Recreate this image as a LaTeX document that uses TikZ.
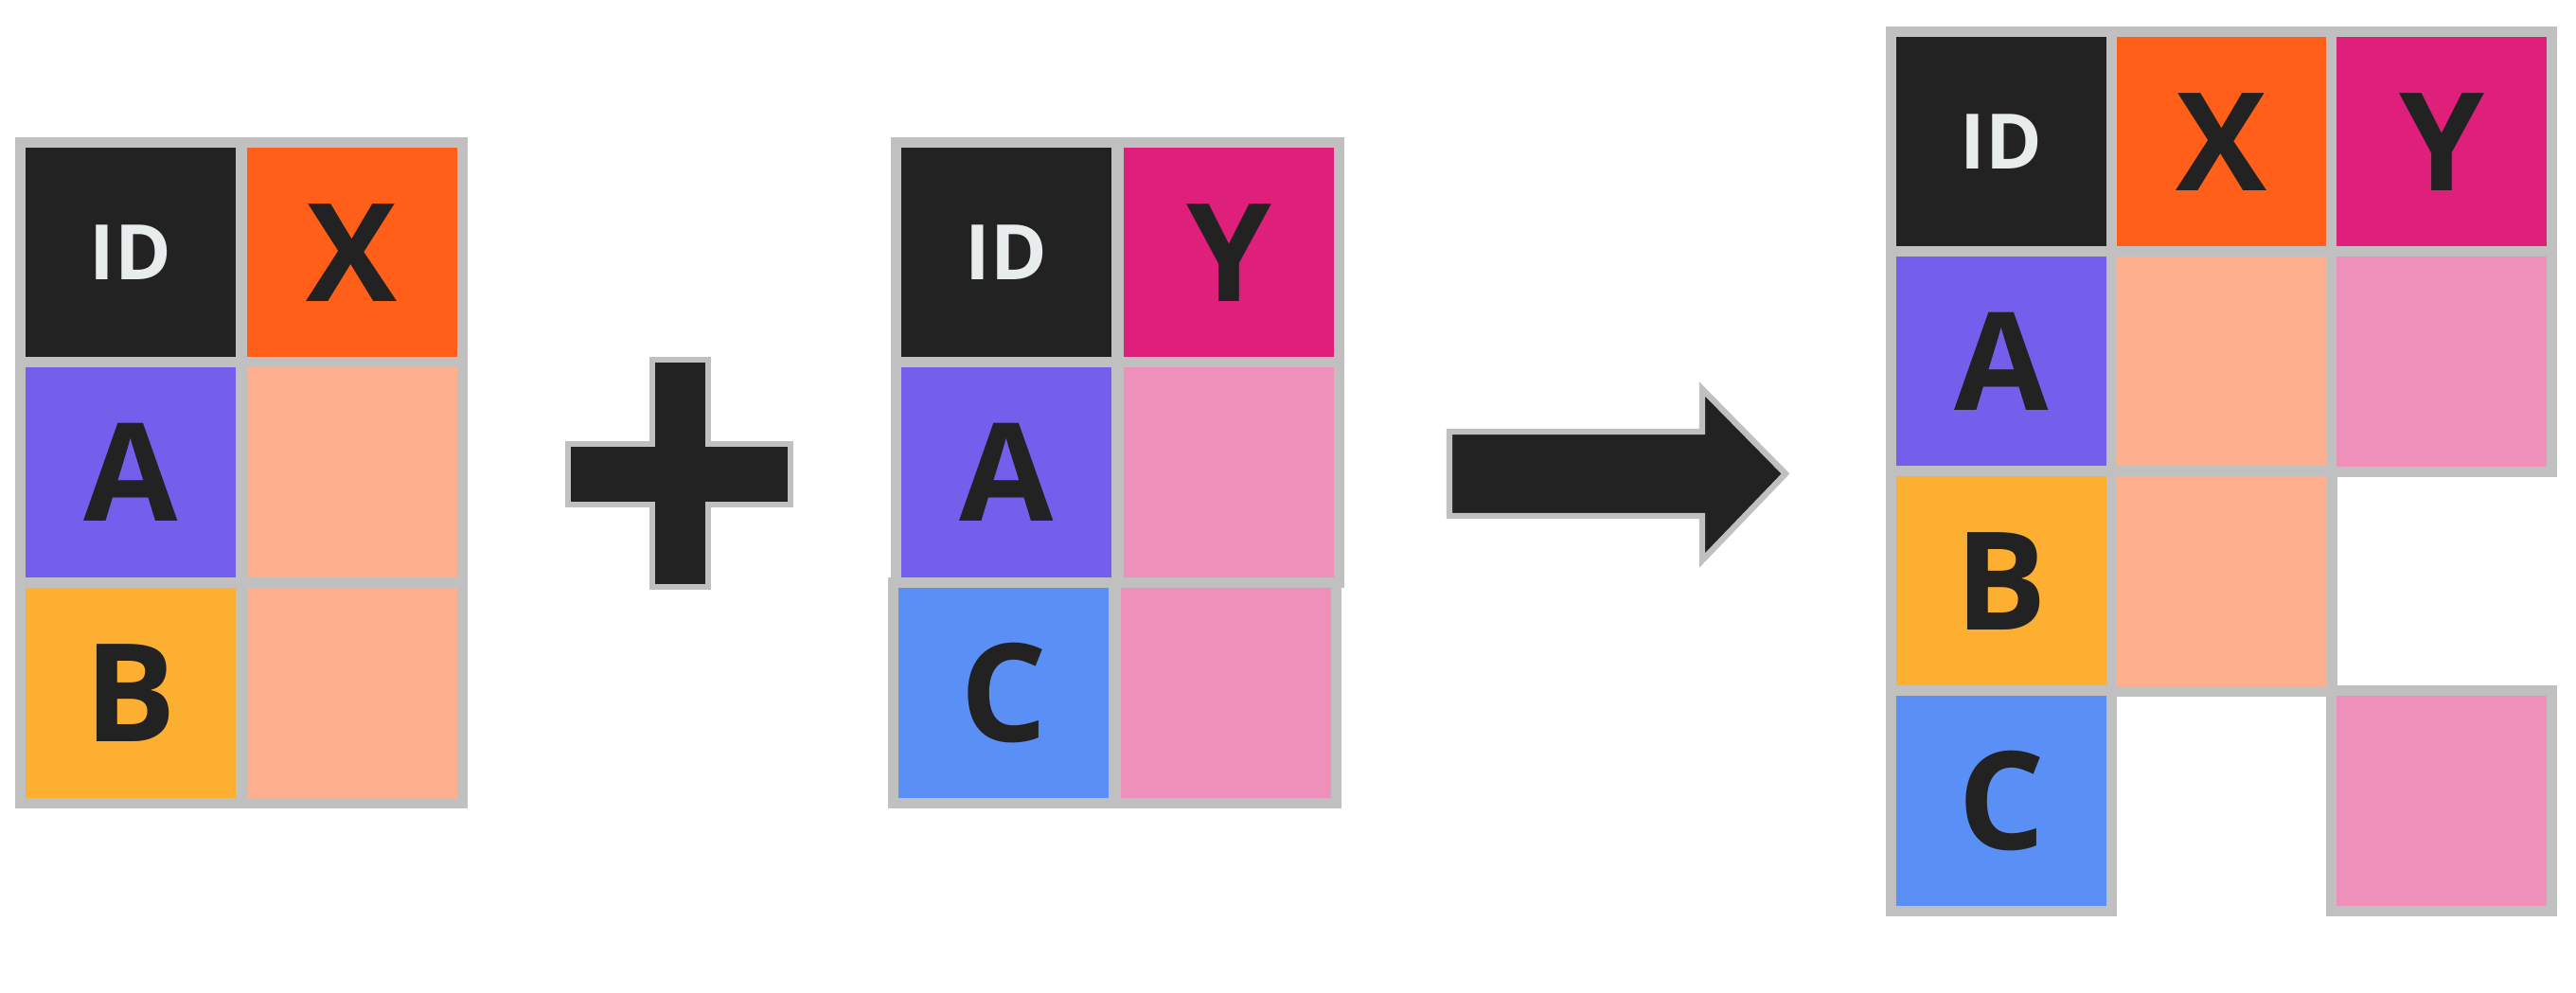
\documentclass[tikz,border=0pt]{standalone}
\usepackage{fontspec}
\setsansfont{Open Sans}
\usetikzlibrary{positioning}

\definecolor{cellgray}{HTML}{C0C0C0}
\definecolor{inkblack}{HTML}{222222}
\definecolor{idwhite}{HTML}{E9ECEC}
\definecolor{xorange}{HTML}{FF5F19}
\definecolor{xlight}{HTML}{FEAF8D}
\definecolor{ymagenta}{HTML}{DF207B}
\definecolor{ylight}{HTML}{EF90BB}
\definecolor{apurple}{HTML}{735FEB}
\definecolor{byellow}{HTML}{FDAF32}
\definecolor{cblue}{HTML}{5A8FF6}

\newcommand{\DrawCell}[5]{
    \node[#4] (#1) at (#2,#3) {#5};
}

\begin{document}
\begin{tikzpicture}[
  cell/.style={draw=cellgray, line width=3pt, minimum width=2.33cm, minimum height=2.33cm,
               inner sep=0pt, text=inkblack, font=\sffamily\bfseries\fontsize{41}{41}\selectfont},
  idcell/.style={cell, fill=inkblack, text=idwhite, font=\sffamily\bfseries\fontsize{23}{23}\selectfont},
  xhead/.style={cell, fill=xorange},
  xval/.style={cell, fill=xlight},
  yhead/.style={cell, fill=ymagenta},
  yval/.style={cell, fill=ylight},
  keya/.style={cell, fill=apurple},
  keyb/.style={cell, fill=byellow},
  keyc/.style={cell, fill=cblue},
  sign/.style={fill=inkblack, draw=cellgray, line width=1.8pt}
  ]
  \useasboundingbox (0,0) rectangle (27.21,10.49);

  % left table
  \DrawCell{lid}{1.38}{7.82}{idcell}{ID}
  \DrawCell{lx}{3.72}{7.82}{xhead}{X}
  \DrawCell{la}{1.38}{5.50}{keya}{A}
  \DrawCell{lxa}{3.72}{5.50}{xval}{}
  \DrawCell{lb}{1.38}{3.17}{keyb}{B}
  \DrawCell{lxb}{3.72}{3.17}{xval}{}

  % plus sign
  \draw[sign] (6.89,6.69) -- (7.48,6.69) -- (7.48,5.80) -- (8.35,5.80) -- (8.35,5.16)
    -- (7.48,5.16) -- (7.48,4.29) -- (6.89,4.29) -- (6.89,5.16) -- (6.00,5.16)
    -- (6.00,5.80) -- (6.89,5.80) -- cycle;

  % middle table
  \DrawCell{mid}{10.63}{7.82}{idcell}{ID}
  \DrawCell{my}{12.98}{7.82}{yhead}{Y}
  \DrawCell{ma}{10.63}{5.50}{keya}{A}
  \DrawCell{mya}{12.98}{5.50}{yval}{}
  \DrawCell{mc}{10.60}{3.17}{keyc}{C}
  \DrawCell{myc}{12.95}{3.17}{yval}{}

  % result arrow
  \draw[sign] (15.31,5.93) -- (17.98,5.93) -- (17.98,6.38) -- (18.86,5.485)
    -- (17.98,4.57) -- (17.98,5.04) -- (15.31,5.04) -- cycle;

  % joined table
  \DrawCell{rid}{21.14}{8.99}{idcell}{ID}
  \DrawCell{rx}{23.47}{8.99}{xhead}{X}
  \DrawCell{ry}{25.79}{8.99}{yhead}{Y}
  \DrawCell{ra}{21.14}{6.67}{keya}{A}
  \DrawCell{rxa}{23.47}{6.67}{xval}{}
  \DrawCell{rya}{25.79}{6.67}{yval}{}
  \DrawCell{rb}{21.14}{4.35}{keyb}{B}
  \DrawCell{rxb}{23.47}{4.35}{xval}{}
  \DrawCell{rc}{21.14}{2.03}{keyc}{C}
  \DrawCell{ryc}{25.79}{2.03}{yval}{}
\end{tikzpicture}
\end{document}
